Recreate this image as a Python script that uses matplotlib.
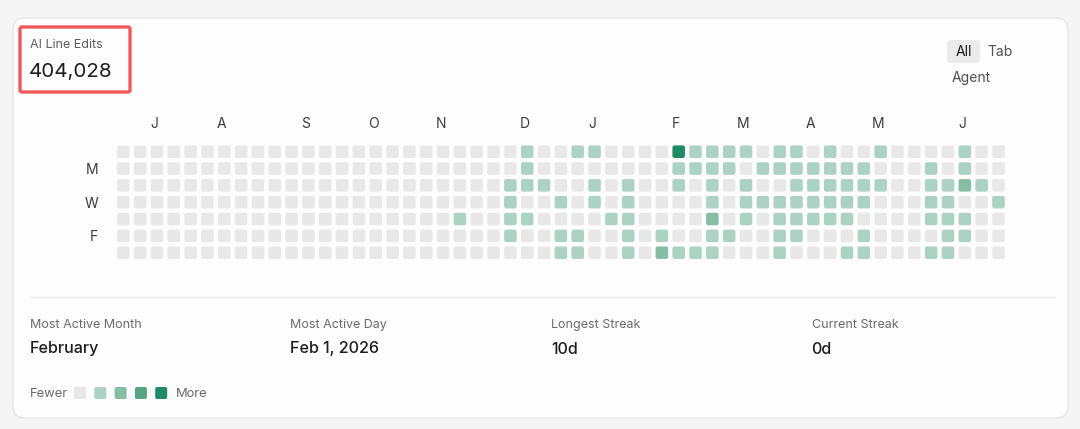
import matplotlib
matplotlib.use("Agg")
import matplotlib.pyplot as plt
from matplotlib.patches import FancyBboxPatch

plt.rcParams['font.family'] = ['Inter', 'DejaVu Sans']

# activity level per day (0 = none .. 4 = most), one string per weekday row,
# one char per week (written in blocks of 10 weeks)
week_rows = [
    "0000000000 0000000000 0000100110 0004111101 1010010000 100",  # Sun
    "0000000000 0000000000 0000100000 0001111011 1111100010 100",  # Mon
    "0000000000 0000000000 0001110010 1001010100 1111110011 210",  # Tue
    "0000000000 0000000000 0001001010 1000010111 1111100011 001",  # Wed
    "0000000000 0000000000 1001100001 1000020101 1111000011 100",  # Thu
    "0000000000 0000000000 0001001100 1010011001 1000100001 100",  # Fri
    "0000000000 0000000000 0000001100 1021110001 0001100011 000",  # Sat
]
week_rows = [r.replace(" ", "") for r in week_rows]
month_labels = ["J", "A", "S", "O", "N", "D", "J", "F", "M", "A", "M", "J"]
month_cols = [2, 6, 11, 15, 19, 24, 28, 33, 37, 41, 45, 50]
day_labels = ["M", "W", "F"]
day_rows = [1, 3, 5]
level_colors = ["#e8e8e8", "#abd2c2", "#86bea5", "#57a383", "#1f8a63"]

total_edits = "404,028"
stat_titles = ["Most Active Month", "Most Active Day", "Longest Streak", "Current Streak"]
stat_values = ["February", "Feb 1, 2026", "10d", "0d"]
filters = ["All", "Tab", "Agent"]

W, H = 1080, 429
fig = plt.figure(figsize=(W / 100, H / 100), dpi=100)
fig.patch.set_facecolor("#f5f5f5")

# background axes in pixel units for the card and the text around the grid
bg = fig.add_axes([0, 0, 1, 1])
bg.set_xlim(0, W)
bg.set_ylim(H, 0)
bg.axis("off")

card = FancyBboxPatch((13, 18), 1055, 400, boxstyle="round,pad=0,rounding_size=12",
                      facecolor="#fdfdfd", edgecolor="#e6e6e6", linewidth=1)
bg.add_patch(card)

# highlighted title box
bg.add_patch(FancyBboxPatch((20, 27), 110, 65, boxstyle="round,pad=0,rounding_size=2",
                            facecolor="none", edgecolor="#f0585b", linewidth=2.4))
bg.text(30, 45, "AI Line Edits", fontsize=9, color="#5f5f63", va="center", ha="left")
bg.text(29, 72, total_edits, fontsize=14.8, color="#1d1d1f", va="center", ha="left")

# filter toggles
bg.add_patch(FancyBboxPatch((947, 40), 33, 23, boxstyle="round,pad=0,rounding_size=4",
                            facecolor="#ebebeb", edgecolor="none"))
bg.text(963.5, 52, filters[0], fontsize=10, color="#1d1d1f", va="center", ha="center")
bg.text(1000, 52, filters[1], fontsize=10, color="#505055", va="center", ha="center")
bg.text(971, 78, filters[2], fontsize=10, color="#505055", va="center", ha="center")

# separator
bg.plot([30, 1055], [297, 297], color="#ececec", linewidth=1)

# stats row
for i, (t, v) in enumerate(zip(stat_titles, stat_values)):
    x = 30 + i * 260.5
    bg.text(x, 325, t, fontsize=9, color="#6a6a6e", va="center", ha="left")
    bg.text(x, 349, v, fontsize=11.6, color="#1d1d1f", va="center", ha="left", fontweight="medium")

# legend
bg.text(30, 394, "Fewer", fontsize=9.3, color="#6a6a6e", va="center", ha="left")
for i, c in enumerate(level_colors):
    bg.add_patch(FancyBboxPatch((74 + i * 20.3, 387), 12, 12, boxstyle="round,pad=0,rounding_size=2",
                                facecolor=c, edgecolor="none"))
bg.text(176, 394, "More", fontsize=9.3, color="#6a6a6e", va="center", ha="left")

# heatmap axes: one data unit = one week / one day
n_cols = len(week_rows[0])
step = 16.83
left_px, top_px = 123.3 - step / 2, 151.7 - step / 2
ax = fig.add_axes([left_px / W, 1 - (top_px + 7 * step) / H, n_cols * step / W, 7 * step / H])
ax.set_xlim(-0.5, n_cols - 0.5)
ax.set_ylim(6.5, -0.5)
ax.patch.set_alpha(0)
for s in ax.spines.values():
    s.set_visible(False)

cell = 0.745
for r, row in enumerate(week_rows):
    for c, ch in enumerate(row):
        ax.add_patch(FancyBboxPatch((c - cell / 2, r - cell / 2), cell, cell,
                                    boxstyle="round,pad=0,rounding_size=0.13",
                                    facecolor=level_colors[int(ch)], edgecolor="none"))

ax.xaxis.tick_top()
ax.set_xticks([c - 0.15 for c in month_cols])
ax.set_xticklabels(month_labels, fontsize=10, color="#3c3c40")
ax.set_yticks(day_rows)
ax.set_yticklabels(day_labels, fontsize=10, color="#3c3c40")
ax.tick_params(length=0)
ax.tick_params(axis="x", pad=9)
ax.tick_params(axis="y", pad=12)

fig.savefig("out.png", dpi=100, facecolor=fig.get_facecolor())
